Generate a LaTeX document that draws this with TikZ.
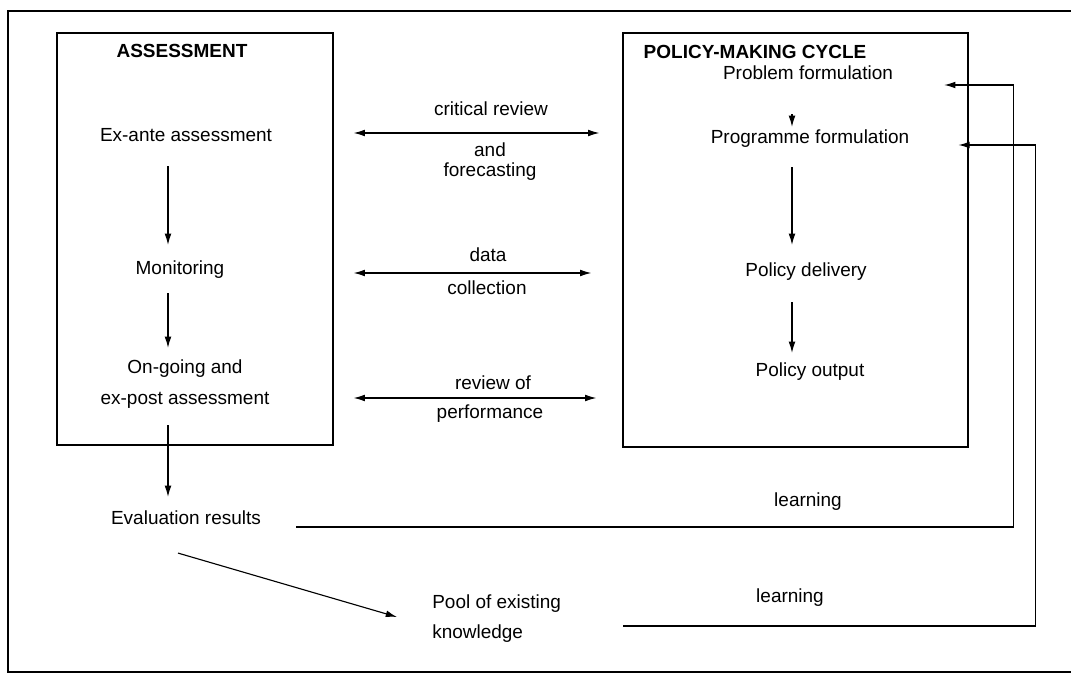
\documentclass[tikz,border=0pt]{standalone}
\usepackage{fontspec}
\setmainfont{Liberation Sans}
\usetikzlibrary{arrows.meta}

\begin{document}
\begin{tikzpicture}[
        x=0.025cm, y=-0.025cm,
        lbl/.style={inner sep=0pt, text height=9.7pt, text depth=2.8pt, font=\fontsize{13.5}{16}\selectfont},
        title/.style={lbl, font=\fontsize{13.5}{16}\selectfont\bfseries},
        twoline/.style={inner sep=0pt, font=\fontsize{13.5}{#1}\selectfont},
        box/.style={draw, line width=0.9pt, inner sep=0pt},
        frame/.style={line width=1.3pt},
        arr/.style={-{Latex[length=8pt,width=4.8pt]}, line width=0.8pt},
        dblarr/.style={{Latex[length=8pt,width=4.8pt]}-{Latex[length=8pt,width=4.8pt]}, line width=0.8pt}
    ]
    \useasboundingbox (0,0) rectangle (1071,675);

    % outer frame (open on the right)
    \draw[frame] (1071,11) -- (8,11) -- (8,672) -- (1071,672);

    % Left box - assessment
    \node[box, minimum width=6.9cm, minimum height=10.3cm] (assessbox) at (195,239) {};
    \node[title] (assesstitle) at (182,53) {ASSESSMENT};
    \node[lbl] (exante) at (186,137) {Ex-ante assessment};
    \node[lbl] (monit) at (180,270) {Monitoring};
    \node[twoline=22pt, align=center] (ongoing) at (185,384.5) {On-going and\\ex-post assessment};
    \node[lbl] (evalres) at (186,520) {Evaluation results};
    \node[twoline=21.3pt, align=left, anchor=west] (pool) at (432,619) {Pool of existing\\knowledge};
    \draw[arr] ([shift={(-18,20)}]exante.south) -- ([shift={(-12,-16)}]monit.north);
    \draw[arr] ([shift={(-12,14)}]monit.south) -- ([shift={(-17,-12)}]ongoing.north);
    \draw[arr] ([shift={(-17,16)}]ongoing.south) -- ([shift={(-18,-14)}]evalres.north);
    \draw[arr] ([shift={(-8,24)}]evalres.south) -- ([shift={(-35,-2)}]pool.west);

    % Right box - policy-making cycle
    \node[box, minimum width=8.625cm, minimum height=10.35cm] (policybox) at (795.5,240) {};
    \node[title] (policytitle) at (755,54) {POLICY-MAKING CYCLE};
    \node[lbl] (probform) at (808,75) {Problem formulation};
    \node[lbl] (progform) at (810,139) {Programme formulation};
    \node[lbl] (delivery) at (806,272) {Policy delivery};
    \node[lbl] (output) at (810,372) {Policy output};
    \draw[arr] ([shift={(-16,30)}]probform.south) -- ([shift={(-18,-3)}]progform.north);
    \draw[arr] ([shift={(-18,19)}]progform.south) -- ([shift={(-14,-18)}]delivery.north);
    \draw[arr] ([shift={(-14,21)}]delivery.south) -- ([shift={(-18,-10)}]output.north);

    % links between the two boxes
    \coordinate (critrow) at (0,133);
    \coordinate (datarow) at (0,273);
    \coordinate (revrow) at (0,398);
    \node[lbl] (critlbl) at (491,111) {critical review};
    \node[twoline=14.2pt, align=center] (andlbl) at (490,162) {and\\forecasting};
    \node[lbl] (datalbl) at (488,257) {data};
    \node[lbl] (collbl) at (487,290) {collection};
    \node[lbl] (revlbl) at (493,385) {review of};
    \node[lbl] (perflbl) at (490,414) {performance};
    \draw[dblarr, shorten <=0.5cm, shorten >=0.575cm] (assessbox.east |- critrow) -- (policybox.west |- critrow);
    \draw[dblarr, shorten <=0.5cm, shorten >=0.775cm] (assessbox.east |- datarow) -- (policybox.west |- datarow);
    \draw[dblarr, shorten <=0.5cm, shorten >=0.65cm] (assessbox.east |- revrow) -- (policybox.west |- revrow);

    % learning loops
    \node[lbl] (learn1) at (808,502) {learning};
    \node[lbl] (learn2) at (790,598) {learning};
    \draw[arr] ([shift={(35,7)}]evalres.east) -| ([shift={(120,10)}]probform.east) -- ([shift={(51,10)}]probform.east);
    \draw[arr] ([shift={(62,7)}]pool.east) -| ([shift={(126,6)}]progform.east) -- ([shift={(49,6)}]progform.east);
\end{tikzpicture}
\end{document}
